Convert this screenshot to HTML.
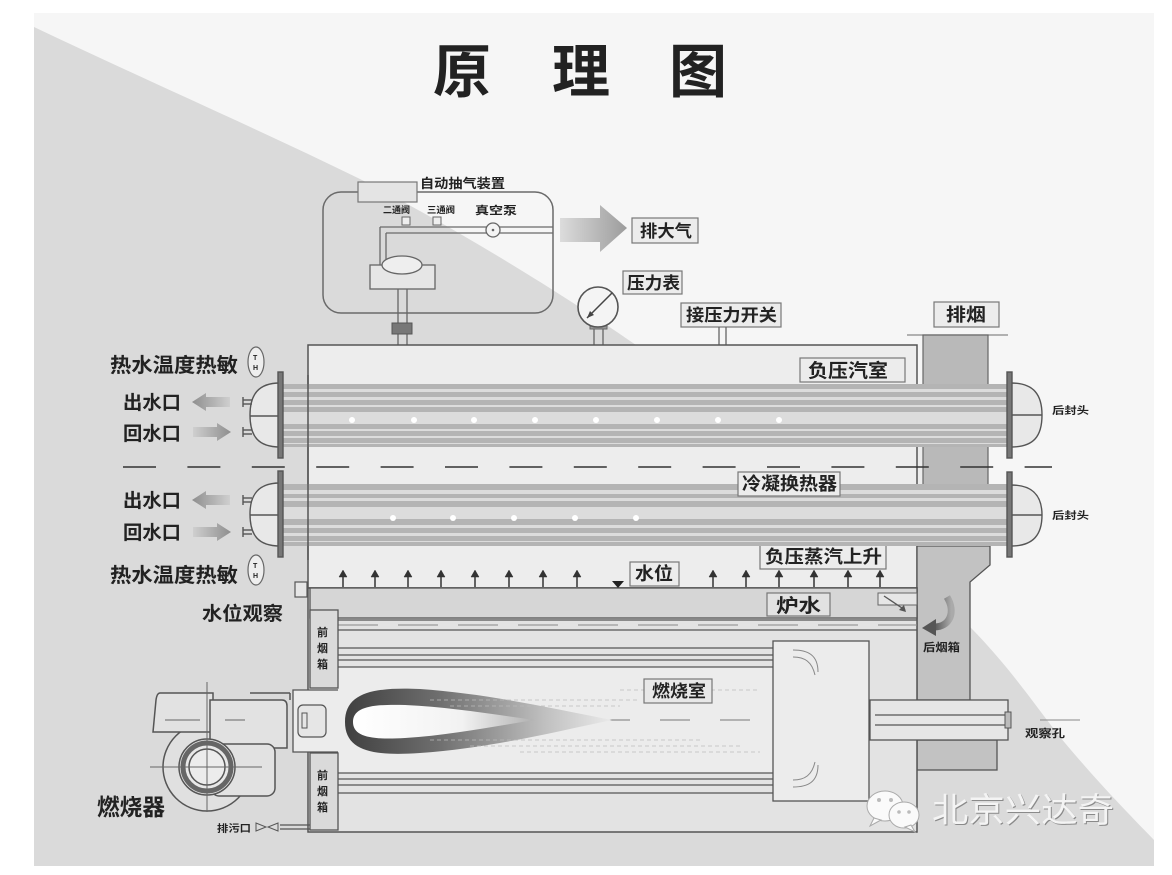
<!DOCTYPE html>
<html><head><meta charset="utf-8"><style>
html,body{margin:0;padding:0;background:#fff;}
svg{display:block;}
text{font-family:"Liberation Sans","Noto Sans CJK SC",sans-serif;fill:#222;font-weight:700;}
</style></head><body>
<svg width="1172" height="875" viewBox="0 0 1172 875" xmlns="http://www.w3.org/2000/svg">
<defs>
<linearGradient id="arrG" x1="0" x2="1" y1="0" y2="0"><stop offset="0" stop-color="#dcdcdc"/><stop offset="1" stop-color="#9c9c9c"/></linearGradient>
<linearGradient id="arrL" x1="0" x2="1"><stop offset="0" stop-color="#8e8e8e"/><stop offset="1" stop-color="#cfcfcf"/></linearGradient>
<linearGradient id="arrR" x1="0" x2="1"><stop offset="0" stop-color="#cfcfcf"/><stop offset="1" stop-color="#8e8e8e"/></linearGradient>
<linearGradient id="flO" x1="0" x2="1"><stop offset="0" stop-color="#404040"/><stop offset="0.35" stop-color="#6e6e6e"/><stop offset="0.75" stop-color="#c0c0c0"/><stop offset="1" stop-color="#eaeaea"/></linearGradient>
<linearGradient id="flI" x1="0" x2="1"><stop offset="0" stop-color="#ffffff"/><stop offset="0.6" stop-color="#f2f2f2"/><stop offset="1" stop-color="#b0b0b0"/></linearGradient>
<linearGradient id="curl" x1="0" x2="1"><stop offset="0" stop-color="#555"/><stop offset="1" stop-color="#aaa"/></linearGradient>
</defs>

<!-- background -->
<rect x="34" y="13" width="1120" height="853" fill="#f6f6f6"/>
<path d="M34,27 C150,82 260,130 360,179 C450,225 560,292 633,343 C760,432 880,535 973,630 C1010,668 1035,705 1060,737 C1100,785 1130,815 1154,840 L1154,866 L34,866 Z" fill="#dadada"/>

<!-- title -->
<text x="433" y="92" font-size="58" fill="#1a1a1a">原</text>
<text x="552" y="92" font-size="58" fill="#1a1a1a">理</text>
<text x="669" y="92" font-size="58" fill="#1a1a1a">图</text>

<!-- vacuum device -->
<rect x="323" y="192" width="230" height="121" rx="18" fill="none" stroke="#6a6a6a" stroke-width="1.5"/>
<rect x="358" y="182" width="59" height="20" fill="#e4e4e4" stroke="#777" stroke-width="1.2"/>
<text x="420" y="188" font-size="13" textLength="85" lengthAdjust="spacingAndGlyphs">自动抽气装置</text>
<text x="383" y="213" font-size="9" textLength="27" lengthAdjust="spacingAndGlyphs">二通阀</text>
<text x="427" y="213" font-size="9" textLength="28" lengthAdjust="spacingAndGlyphs">三通阀</text>
<text x="475" y="214" font-size="11" textLength="42" lengthAdjust="spacingAndGlyphs">真空泵</text>
<rect x="402" y="217" width="8" height="8" fill="#eee" stroke="#666"/>
<rect x="433" y="217" width="8" height="8" fill="#eee" stroke="#666"/>
<line x1="380" y1="227" x2="553" y2="227" stroke="#6a6a6a" stroke-width="1.3"/>
<line x1="386" y1="233" x2="553" y2="233" stroke="#6a6a6a" stroke-width="1.3"/>
<circle cx="493" cy="230" r="7" fill="#f4f4f4" stroke="#666" stroke-width="1.3"/>
<circle cx="493" cy="230" r="1.3" fill="#666"/>
<line x1="380" y1="227" x2="380" y2="265" stroke="#6a6a6a" stroke-width="1.3"/>
<line x1="386" y1="233" x2="386" y2="265" stroke="#6a6a6a" stroke-width="1.3"/>
<rect x="370" y="265" width="65" height="24" fill="#e6e6e6" stroke="#666" stroke-width="1.3"/>
<ellipse cx="402" cy="265" rx="20" ry="9" fill="#eee" stroke="#666" stroke-width="1.3"/>
<line x1="398" y1="289" x2="398" y2="345" stroke="#666" stroke-width="1.3"/>
<line x1="407" y1="289" x2="407" y2="345" stroke="#666" stroke-width="1.3"/>
<rect x="392" y="323" width="20" height="11" fill="#777" stroke="#555"/>

<!-- exhaust arrow -->
<path d="M560,218 L600,218 L600,205 L627,228 L600,252 L600,242 L560,242 Z" fill="url(#arrG)"/>
<rect x="632" y="218" width="66" height="25" fill="#ececec" stroke="#777" stroke-width="1.2"/>
<text x="640" y="237" font-size="17" textLength="52" lengthAdjust="spacingAndGlyphs">排大气</text>
<rect x="623" y="271" width="59" height="23" fill="#ececec" stroke="#777" stroke-width="1.2"/>
<text x="627" y="289" font-size="17" textLength="53" lengthAdjust="spacingAndGlyphs">压力表</text>

<!-- gauge -->
<line x1="594" y1="325" x2="594" y2="345" stroke="#666" stroke-width="1.3"/>
<line x1="603" y1="325" x2="603" y2="345" stroke="#666" stroke-width="1.3"/>
<rect x="590" y="324" width="17" height="5" fill="#999" stroke="#666"/>
<circle cx="598" cy="307" r="20" fill="#f4f4f4" stroke="#555" stroke-width="1.6"/>
<line x1="612" y1="293" x2="587" y2="318" stroke="#444" stroke-width="1.5"/>
<path d="M587,318 L590,311 L594,315 Z" fill="#444"/>

<rect x="681" y="303" width="100" height="24" fill="#ececec" stroke="#777" stroke-width="1.2"/>
<text x="686" y="321" font-size="17" textLength="91" lengthAdjust="spacingAndGlyphs">接压力开关</text>
<line x1="719" y1="327" x2="719" y2="345" stroke="#666" stroke-width="1.3"/>
<line x1="726" y1="327" x2="726" y2="345" stroke="#666" stroke-width="1.3"/>

<!-- chimney -->
<rect x="934" y="302" width="65" height="25" fill="#ececec" stroke="#777" stroke-width="1.2"/>
<text x="946" y="321" font-size="18" textLength="40" lengthAdjust="spacingAndGlyphs">排烟</text>
<line x1="907" y1="335" x2="1008" y2="335" stroke="#888" stroke-width="1.2"/>
<rect x="923" y="335" width="65" height="55" fill="#b9b9b9" stroke="#666" stroke-width="1.2"/>
<rect x="917" y="445" width="6" height="40" fill="#ececec" stroke="#666" stroke-width="1"/>
<rect x="923" y="445" width="65" height="40" fill="#b9b9b9" stroke="#666" stroke-width="1.2"/>

<!-- main body upper -->
<rect x="308" y="345" width="609" height="243" fill="#ededed" stroke="#555" stroke-width="1.5"/>

<!-- lower chimney / rear smoke box -->
<path d="M917,546 L990,546 L990,565 L970,582 L970,700 L917,700 Z" fill="#c2c2c2" stroke="#555" stroke-width="1.3"/>
<rect x="917" y="740" width="80" height="30" fill="#c2c2c2" stroke="#555" stroke-width="1.3"/>

<!-- lower body -->
<rect x="308" y="588" width="609" height="244" fill="#e3e3e3" stroke="#555" stroke-width="1.5"/>
<rect x="310" y="588" width="607" height="30" fill="#d6d6d6" stroke="#555" stroke-width="1.3"/>
<line x1="338" y1="620" x2="917" y2="620" stroke="#555" stroke-width="1.3"/>
<line x1="338" y1="625" x2="917" y2="625" stroke="#888" stroke-width="1" stroke-dasharray="40,20"/>
<line x1="338" y1="630" x2="917" y2="630" stroke="#555" stroke-width="1.3"/>
<rect x="338" y="667" width="435" height="106" fill="#ececec"/>
<line x1="338" y1="648" x2="773" y2="648" stroke="#555" stroke-width="1.3"/>
<line x1="338" y1="655" x2="773" y2="655" stroke="#555" stroke-width="1.3"/>
<line x1="338" y1="660" x2="773" y2="660" stroke="#555" stroke-width="1.3"/>
<line x1="338" y1="667" x2="773" y2="667" stroke="#555" stroke-width="1.3"/>
<line x1="338" y1="773" x2="773" y2="773" stroke="#555" stroke-width="1.3"/>
<line x1="338" y1="779" x2="773" y2="779" stroke="#555" stroke-width="1.3"/>
<line x1="338" y1="785" x2="773" y2="785" stroke="#555" stroke-width="1.3"/>
<line x1="338" y1="793" x2="773" y2="793" stroke="#555" stroke-width="1.3"/>

<!-- center dashes -->
<line x1="180" y1="720" x2="870" y2="720" stroke="#777" stroke-width="1" stroke-dasharray="30,30"/>
<line x1="1040" y1="720" x2="1080" y2="720" stroke="#888" stroke-width="1"/>

<!-- front smoke boxes -->
<rect x="310" y="610" width="28" height="78" fill="#dadada" stroke="#555" stroke-width="1.3"/>
<text x="317" y="636" font-size="11">前</text>
<text x="317" y="652" font-size="11">烟</text>
<text x="317" y="668" font-size="11">箱</text>
<rect x="310" y="753" width="28" height="77" fill="#dadada" stroke="#555" stroke-width="1.3"/>
<text x="317" y="779" font-size="11">前</text>
<text x="317" y="795" font-size="11">烟</text>
<text x="317" y="811" font-size="11">箱</text>

<!-- burner mount -->
<path d="M338,690 L293,690 L293,752 L338,752" fill="#ececec" stroke="#555" stroke-width="1.3"/>
<rect x="298" y="705" width="28" height="32" rx="5" fill="#e6e6e6" stroke="#555" stroke-width="1.2"/>
<rect x="302" y="713" width="5" height="15" fill="none" stroke="#555" stroke-width="1"/>

<!-- flame -->
<path d="M345,722 C345,692 375,687 420,689 C490,694 550,708 612,720 C550,733 490,748 420,753 C375,756 345,752 345,722 Z" fill="url(#flO)"/>
<path d="M353,722 C353,707 372,704 405,705 C450,707 490,714 535,720 C490,727 450,735 405,738 C372,740 353,737 353,722 Z" fill="url(#flI)"/>
<g stroke="#bbb" stroke-width="0.8" stroke-dasharray="4,3" fill="none">
<path d="M430,700 L640,700 M450,706 L620,706 M620,690 L760,690 M430,740 L700,740 M470,746 L740,746 M520,752 L760,752"/>
</g>
<rect x="644" y="679" width="68" height="24" fill="#e8e8e8" stroke="#777" stroke-width="1.2"/>
<text x="652" y="697" font-size="17" textLength="54" lengthAdjust="spacingAndGlyphs">燃烧室</text>

<!-- rear turning box -->
<rect x="773" y="641" width="96" height="160" fill="#ececec" stroke="#555" stroke-width="1.3"/>
<g stroke="#888" stroke-width="1" fill="none">
<path d="M793,650 C808,650 818,655 818,672 M793,657 C805,657 812,662 815,675"/>
<path d="M793,787 C808,787 818,782 818,765 M793,780 C805,780 812,775 815,762"/>
</g>

<!-- observation pipe -->
<rect x="870" y="700" width="138" height="40" fill="#e6e6e6" stroke="#555" stroke-width="1.3"/>
<line x1="875" y1="715" x2="1010" y2="715" stroke="#555" stroke-width="1.3"/>
<line x1="875" y1="725" x2="1010" y2="725" stroke="#555" stroke-width="1.3"/>
<rect x="1005" y="712" width="6" height="16" fill="#bbb" stroke="#555"/>
<text x="1025" y="737" font-size="11" textLength="40" lengthAdjust="spacingAndGlyphs">观察孔</text>

<!-- rear smoke box label and curl -->
<text x="923" y="651" font-size="11" textLength="37" lengthAdjust="spacingAndGlyphs">后烟箱</text>
<path d="M947,597 C956,612 950,627 934,627" stroke="url(#curl)" stroke-width="7" fill="none"/>
<path d="M936,619 L922,628 L936,636 Z" fill="#555"/>
<rect x="878" y="593" width="39" height="12" fill="#e6e6e6" stroke="#666"/>
<path d="M884,596 L905,610" stroke="#555" stroke-width="1.3"/>
<path d="M906,612 L899,610 L904,605 Z" fill="#555"/>

<!-- water level -->
<rect x="767" y="593" width="63" height="23" fill="#e2e2e2" stroke="#777" stroke-width="1.2"/>
<text x="776" y="612" font-size="19" textLength="45" lengthAdjust="spacingAndGlyphs">炉水</text>
<rect x="630" y="562" width="49" height="24" fill="#ececec" stroke="#777" stroke-width="1.2"/>
<text x="635" y="580" font-size="18" textLength="38" lengthAdjust="spacingAndGlyphs">水位</text>
<path d="M612,581 L624,581 L618,588 Z" fill="#222"/>
<g fill="#333" stroke="#333" stroke-width="1.5">
<g id="sa"><line x1="343" y1="587" x2="343" y2="575"/><path d="M339,577 L347,577 L343,570 Z" stroke-width="0.5"/></g>
<use href="#sa" x="32"/><use href="#sa" x="65"/><use href="#sa" x="98"/><use href="#sa" x="132"/><use href="#sa" x="166"/><use href="#sa" x="200"/><use href="#sa" x="234"/>
<use href="#sa" x="370"/><use href="#sa" x="403"/><use href="#sa" x="436"/><use href="#sa" x="471"/><use href="#sa" x="505"/><use href="#sa" x="537"/>
</g>
<rect x="760" y="545" width="126" height="24" fill="#ececec" stroke="#777" stroke-width="1.2"/>
<text x="765" y="563" font-size="18" textLength="117" lengthAdjust="spacingAndGlyphs">负压蒸汽上升</text>

<!-- tube bundles -->
<g>
<rect x="283" y="384" width="725" height="63" fill="#b4b4b4"/>
<g fill="#dcdcdc">
<rect x="283" y="389" width="725" height="3"/>
<rect x="283" y="397" width="725" height="3"/>
<rect x="283" y="405" width="725" height="2"/>
<rect x="283" y="412" width="725" height="12"/>
<rect x="283" y="429" width="725" height="2"/>
<rect x="283" y="436" width="725" height="2"/>
<rect x="283" y="443" width="725" height="1"/>
</g>
<rect x="283" y="484" width="725" height="62" fill="#b4b4b4"/>
<g fill="#dcdcdc">
<rect x="283" y="490" width="725" height="4"/>
<rect x="283" y="498" width="725" height="3"/>
<rect x="283" y="507" width="725" height="12"/>
<rect x="283" y="525" width="725" height="3"/>
<rect x="283" y="533" width="725" height="3"/>
<rect x="283" y="541" width="725" height="1"/>
</g>
<g fill="#fff">
<circle cx="352" cy="420" r="3"/><circle cx="414" cy="420" r="3"/><circle cx="474" cy="420" r="3"/><circle cx="535" cy="420" r="3"/><circle cx="596" cy="420" r="3"/><circle cx="657" cy="420" r="3"/><circle cx="718" cy="420" r="3"/><circle cx="779" cy="420" r="3"/>
<circle cx="393" cy="518" r="3"/><circle cx="453" cy="518" r="3"/><circle cx="514" cy="518" r="3"/><circle cx="575" cy="518" r="3"/><circle cx="636" cy="518" r="3"/>
</g>
</g>
<line x1="308" y1="375" x2="308" y2="560" stroke="#555" stroke-width="1.5"/>
<rect x="800" y="358" width="105" height="24" fill="#ececec" stroke="#777" stroke-width="1.2"/>
<text x="808" y="377" font-size="19" textLength="80" lengthAdjust="spacingAndGlyphs">负压汽室</text>
<rect x="738" y="472" width="102" height="24" fill="#ececec" stroke="#777" stroke-width="1.2"/>
<text x="742" y="490" font-size="18" textLength="95" lengthAdjust="spacingAndGlyphs">冷凝换热器</text>

<!-- dashed divider -->
<line x1="123" y1="467" x2="1052" y2="467" stroke="#333" stroke-width="1.5" stroke-dasharray="33,31.4"/>

<!-- left heads -->
<g stroke="#555" stroke-width="1.4" fill="#e8e8e8">
<path d="M280,383 C258,383 250,395 250,415 C250,436 258,447 280,447 Z"/>
<line x1="250" y1="416" x2="280" y2="416"/>
<rect x="278" y="372" width="5" height="86" fill="#777"/>
<path d="M280,483 C258,483 250,495 250,514 C250,535 258,546 280,546 Z"/>
<line x1="250" y1="515" x2="280" y2="515"/>
<rect x="278" y="471" width="5" height="86" fill="#777"/>
<!-- right heads -->
<path d="M1011,383 C1034,383 1042,395 1042,415 C1042,436 1034,447 1011,447 Z"/>
<line x1="1011" y1="415" x2="1042" y2="415"/>
<rect x="1007" y="372" width="5" height="86" fill="#777"/>
<path d="M1011,485 C1034,485 1042,497 1042,515 C1042,534 1034,546 1011,546 Z"/>
<line x1="1011" y1="515" x2="1042" y2="515"/>
<rect x="1007" y="472" width="5" height="85" fill="#777"/>
</g>
<text x="1052" y="414" font-size="10" textLength="37" lengthAdjust="spacingAndGlyphs">后封头</text>
<text x="1052" y="519" font-size="10" textLength="37" lengthAdjust="spacingAndGlyphs">后封头</text>

<!-- nozzles -->
<g stroke="#555" stroke-width="1.4">
<line x1="243" y1="397" x2="243" y2="407"/><line x1="243" y1="400" x2="252" y2="400"/><line x1="243" y1="404" x2="252" y2="404"/>
<line x1="243" y1="427" x2="243" y2="437"/><line x1="243" y1="430" x2="252" y2="430"/><line x1="243" y1="434" x2="252" y2="434"/>
<line x1="243" y1="495" x2="243" y2="505"/><line x1="243" y1="498" x2="252" y2="498"/><line x1="243" y1="502" x2="252" y2="502"/>
<line x1="243" y1="527" x2="243" y2="537"/><line x1="243" y1="530" x2="252" y2="530"/><line x1="243" y1="534" x2="252" y2="534"/>
</g>

<!-- left arrows -->
<path d="M192,402 L206,393 L206,397 L230,397 L230,407 L206,407 L206,411 Z" fill="url(#arrL)"/>
<path d="M231,432 L217,423 L217,427 L193,427 L193,437 L217,437 L217,441 Z" fill="url(#arrR)"/>
<path d="M192,500 L206,491 L206,495 L230,495 L230,505 L206,505 L206,509 Z" fill="url(#arrL)"/>
<path d="M231,532 L217,523 L217,527 L193,527 L193,537 L217,537 L217,541 Z" fill="url(#arrR)"/>

<!-- left labels -->
<text x="110" y="372" font-size="20" textLength="128" lengthAdjust="spacingAndGlyphs">热水温度热敏</text>
<text x="123" y="409" font-size="19" textLength="58" lengthAdjust="spacingAndGlyphs">出水口</text>
<text x="123" y="440" font-size="19" textLength="58" lengthAdjust="spacingAndGlyphs">回水口</text>
<text x="123" y="507" font-size="19" textLength="58" lengthAdjust="spacingAndGlyphs">出水口</text>
<text x="123" y="539" font-size="19" textLength="58" lengthAdjust="spacingAndGlyphs">回水口</text>
<text x="110" y="582" font-size="20" textLength="128" lengthAdjust="spacingAndGlyphs">热水温度热敏</text>
<ellipse cx="256" cy="362" rx="8" ry="15" fill="#eee" stroke="#666" stroke-width="1.2"/>
<text x="253" y="360" font-size="7">T</text><text x="253" y="370" font-size="7">H</text>
<ellipse cx="256" cy="570" rx="8" ry="15" fill="#eee" stroke="#666" stroke-width="1.2"/>
<text x="253" y="568" font-size="7">T</text><text x="253" y="578" font-size="7">H</text>
<rect x="295" y="582" width="12" height="15" fill="#e6e6e6" stroke="#555" stroke-width="1.2"/>
<text x="202" y="620" font-size="19" textLength="81" lengthAdjust="spacingAndGlyphs">水位观察</text>

<!-- burner -->
<g stroke="#555" stroke-width="1.5" fill="#e2e2e2">
<circle cx="207" cy="767" r="44" fill="#e0e0e0"/>
<path d="M160,693 L213,693 L213,732 L153,732 L156,700 Q157,693 160,693 Z"/>
<path d="M210,700 L282,700 Q287,700 287,706 L287,748 L210,748 Z"/>
<line x1="250" y1="693" x2="290" y2="693"/>
<line x1="290" y1="693" x2="290" y2="700"/>
<rect x="211" y="744" width="64" height="52" rx="8"/>
<circle cx="207" cy="767" r="28" fill="#e8e8e8"/>
<circle cx="207" cy="767" r="24" fill="none" stroke="#666" stroke-width="5"/>
<circle cx="207" cy="767" r="18" fill="#ececec"/>
</g>
<g stroke="#666" stroke-width="1">
<line x1="150" y1="767" x2="262" y2="767"/>
<line x1="207" y1="682" x2="207" y2="812"/>
<line x1="165" y1="720" x2="200" y2="720"/>
<line x1="225" y1="720" x2="245" y2="720"/>
</g>
<text x="97" y="815" font-size="23" textLength="68" lengthAdjust="spacingAndGlyphs">燃烧器</text>
<text x="217" y="832" font-size="10" textLength="34" lengthAdjust="spacingAndGlyphs">排污口</text>
<path d="M256,823 L256,831 L266,827 Z M278,823 L278,831 L268,827 Z" fill="none" stroke="#555" stroke-width="1"/>
<line x1="280" y1="825" x2="310" y2="825" stroke="#555" stroke-width="1.2"/>
<line x1="280" y1="829" x2="310" y2="829" stroke="#555" stroke-width="1.2"/>

<!-- watermark -->
<g>
<ellipse cx="885" cy="806" rx="18" ry="15" fill="#fafafa" stroke="#aaa" stroke-width="1"/>
<path d="M874,818 L870,826 L881,820 Z" fill="#fafafa" stroke="#aaa" stroke-width="1"/>
<ellipse cx="904" cy="815" rx="15" ry="13" fill="#fafafa" stroke="#aaa" stroke-width="1"/>
<path d="M911,825 L915,832 L905,827 Z" fill="#fafafa" stroke="#aaa" stroke-width="1"/>
<circle cx="879" cy="800" r="2" fill="#bbb"/><circle cx="891" cy="800" r="2" fill="#bbb"/>
<circle cx="899" cy="812" r="1.8" fill="#bbb"/><circle cx="909" cy="812" r="1.8" fill="#bbb"/>
<text x="933" y="823" font-size="34" textLength="182" lengthAdjust="spacingAndGlyphs" style="font-weight:400;fill:#8a8a8a">北京兴达奇</text>
<text x="932" y="822" font-size="34" textLength="182" lengthAdjust="spacingAndGlyphs" style="font-weight:400;fill:#f4f4f4">北京兴达奇</text>
</g>
</svg>
</body></html>
